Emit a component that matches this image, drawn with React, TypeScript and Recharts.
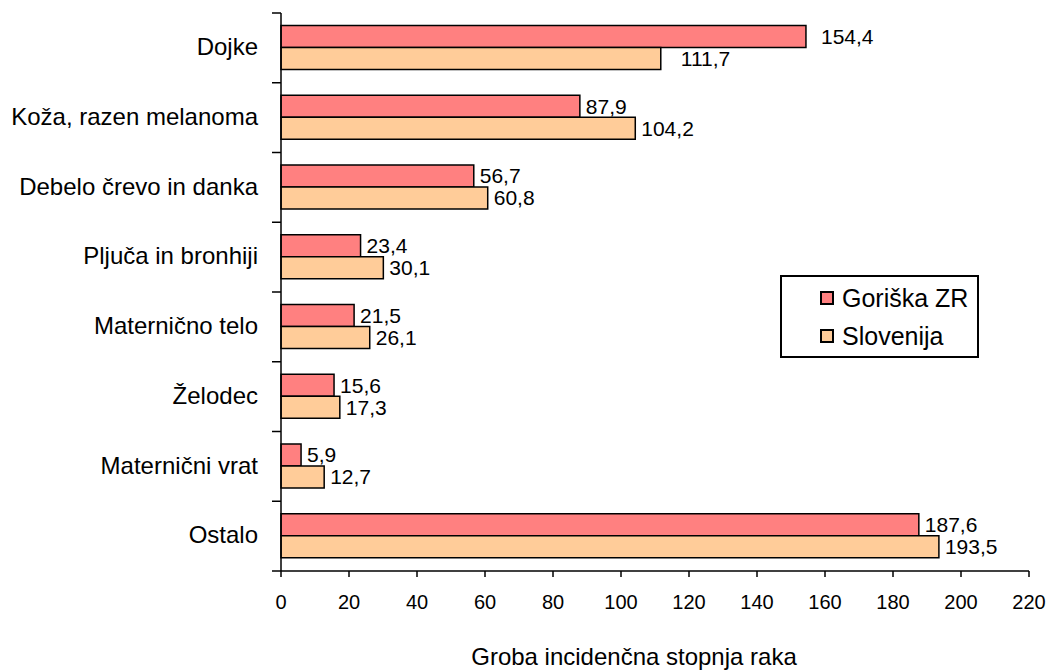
import React from "react";
import {
  BarChart,
  Bar,
  XAxis,
  YAxis,
  Legend,
  LabelList,
} from "recharts";

const categories = [
  "Dojke",
  "Koža, razen melanoma",
  "Debelo črevo in danka",
  "Pljuča in bronhiji",
  "Maternično telo",
  "Želodec",
  "Maternični vrat",
  "Ostalo",
];
const goriska = [154.4, 87.9, 56.7, 23.4, 21.5, 15.6, 5.9, 187.6];
const slovenija = [111.7, 104.2, 60.8, 30.1, 26.1, 17.3, 12.7, 193.5];
const xTicks = [0, 20, 40, 60, 80, 100, 120, 140, 160, 180, 200, 220];

const SERIES = [
  { key: "goriska", name: "Goriška ZR", color: "#FF8080" },
  { key: "slovenija", name: "Slovenija", color: "#FFCC99" },
];

// the two Dojke labels sit a bit further from their bars in the original
const LABEL_NUDGE: Record<string, number[]> = {
  goriska: [9, 0, 0, 0, 0, 0, 0, 0],
  slovenija: [14, 0, 0, 0, 0, 0, 0, 0],
};

const FONT = '"Liberation Sans", Arial, sans-serif';
const W = 1051;
const H = 671;
const TOP = 13;
const AXIS_X = 281;
const AXIS_Y = 571;
const BAND = (AXIS_Y - TOP) / categories.length;

const data = categories.map((name, i) => ({
  name,
  goriska: goriska[i],
  slovenija: slovenija[i],
}));

const fmt = (v: any) => Number(v).toFixed(1).replace(".", ",");

// category label centred in band, tick marks on the band boundaries (Excel style)
function CategoryTick(props: any) {
  const { x, y, payload, index } = props;
  const top = y - BAND / 2;
  return (
    <g>
      <line x1={AXIS_X - 9} x2={AXIS_X} y1={top} y2={top} stroke="#000" strokeWidth={1.5} />
      {index === categories.length - 1 && (
        <line x1={AXIS_X - 9} x2={AXIS_X} y1={top + BAND} y2={top + BAND} stroke="#000" strokeWidth={1.5} />
      )}
      <text x={x} y={y} dy="0.3em" textAnchor="end" fill="#000" fontSize={24} fontFamily={FONT}>
        {payload.value}
      </text>
    </g>
  );
}

function makeValueLabel(seriesKey: string) {
  return function ValueLabel(props: any) {
    const { x, y, width, height, value, index } = props;
    const nudge = LABEL_NUDGE[seriesKey]?.[index] ?? 0;
    return (
      <text
        x={x + width + 6 + nudge}
        y={y + height / 2}
        dy="0.35em"
        textAnchor="start"
        fill="#000"
        fontSize={21}
        fontFamily={FONT}
      >
        {fmt(value)}
      </text>
    );
  };
}

function LegendBox() {
  return (
    <div
      style={{
        width: 199,
        height: 83,
        boxSizing: "border-box",
        border: "2px solid #000",
        background: "#fff",
        fontFamily: FONT,
        fontSize: 25,
        color: "#000",
        paddingTop: 2,
      }}
    >
      {SERIES.map((s) => (
        <div key={s.key} style={{ display: "flex", alignItems: "center", height: 38, paddingLeft: 38 }}>
          <span
            style={{
              display: "inline-block",
              width: 14,
              height: 14,
              boxSizing: "border-box",
              border: "2px solid #000",
              background: s.color,
              marginRight: 8,
            }}
          />
          <span>{s.name}</span>
        </div>
      ))}
    </div>
  );
}

export default function App() {
  return (
    <div style={{ position: "absolute", left: 0, top: 0, width: W, height: H, background: "#fff" }}>
      <BarChart
        width={W}
        height={H}
        data={data}
        layout="vertical"
        margin={{ top: TOP, right: W - 1029, left: 0, bottom: 0 }}
        barCategoryGap="18%"
        barGap={0}
      >
        <XAxis
          type="number"
          domain={[0, 220]}
          ticks={xTicks}
          interval={0}
          height={H - AXIS_Y}
          axisLine={{ stroke: "#000", strokeWidth: 1.5 }}
          tickLine={{ stroke: "#000", strokeWidth: 1.5 }}
          tickSize={6}
          tickMargin={18}
          tick={{ fill: "#000", fontSize: 20, fontFamily: FONT }}
          label={{
            value: "Groba incidenčna stopnja raka",
            position: "insideBottom",
            offset: 6,
            dx: -21,
            fill: "#000",
            fontSize: 24,
            fontFamily: FONT,
          }}
        />
        <YAxis
          type="category"
          dataKey="name"
          width={AXIS_X}
          axisLine={{ stroke: "#000", strokeWidth: 1.5 }}
          tickLine={false}
          tickSize={9}
          tickMargin={14}
          interval={0}
          tick={<CategoryTick />}
        />
        <Legend
          layout="vertical"
          align="center"
          verticalAlign="middle"
          content={<LegendBox />}
          wrapperStyle={{ position: "absolute", left: 780, top: 275, width: 199, height: 83 }}
        />
        {SERIES.map((s) => (
          <Bar
            key={s.key}
            dataKey={s.key}
            name={s.name}
            fill={s.color}
            stroke="#000"
            strokeWidth={1.5}
            isAnimationActive={false}
          >
            <LabelList dataKey={s.key} content={makeValueLabel(s.key)} />
          </Bar>
        ))}
      </BarChart>
    </div>
  );
}
